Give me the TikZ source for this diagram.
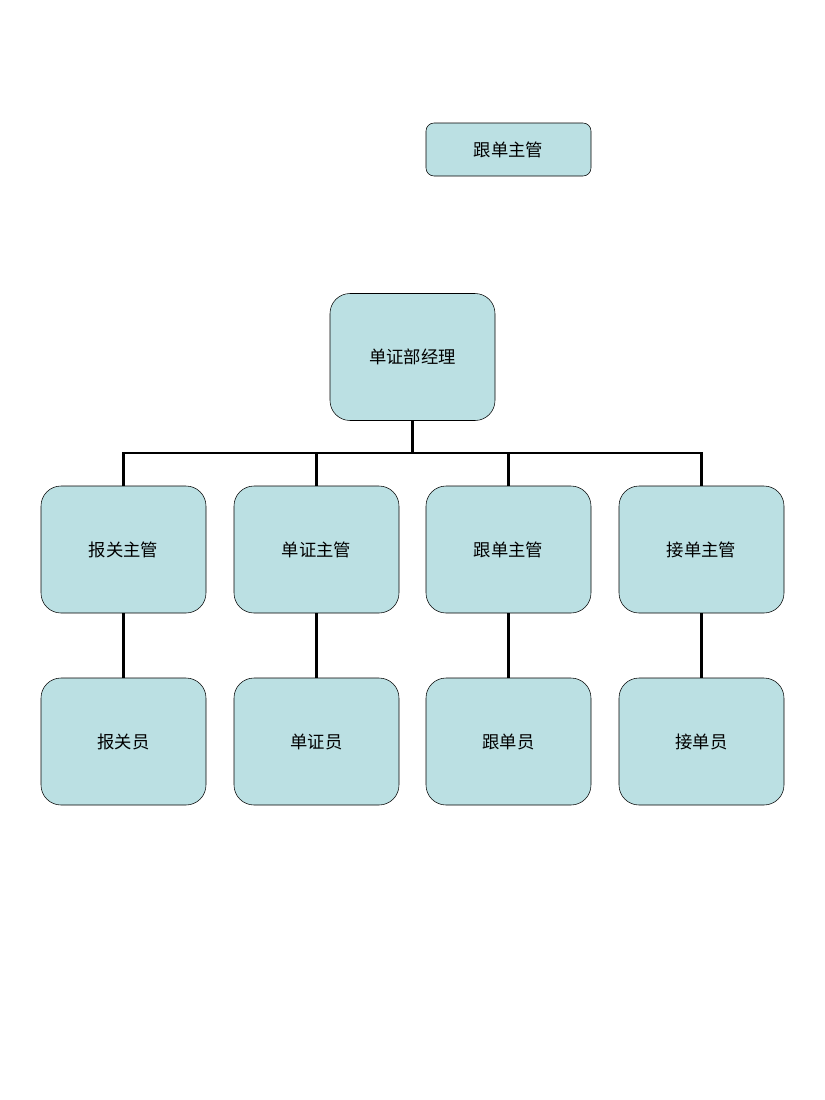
\documentclass[tikz,border=0pt]{standalone}
\usepackage{fontspec}
\setmainfont{Noto Sans CJK SC}
\usetikzlibrary{positioning}
\definecolor{boxfill}{HTML}{BBE0E3}

\begin{document}
\begin{tikzpicture}[x=0.75pt,y=-0.75pt,
  box/.style={rectangle,draw,fill=boxfill,rounded corners=15pt,
    minimum width=123.75pt,minimum height=95.25pt,font=\fontsize{13}{15}\selectfont},
  smallbox/.style={box,rounded corners=6pt,minimum height=39.75pt},
  link/.style={line width=2.2pt}]

\useasboundingbox (0,0) rectangle (825,1100);

%Nodes
\node (T) at (508.5,149.5) [smallbox] {跟单主管};
\node (M) at (412.5,357) [box] {单证部经理};

\node (A) at (123.5,549.5) [box] {报关主管};
\node (B) at (316.5,549.5) [box] {单证主管};
\node (C) at (508.5,549.5) [box] {跟单主管};
\node (D) at (701.5,549.5) [box] {接单主管};

\node (A1) at (123.5,741.5) [box] {报关员};
\node (B1) at (316.5,741.5) [box] {单证员};
\node (C1) at (508.5,741.5) [box] {跟单员};
\node (D1) at (701.5,741.5) [box] {接单员};

\coordinate (bus) at (412.5,453);

\begin{scope}[on background layer/.code={}]
\foreach \n in {A,B,C,D}
  \draw[link] (M.south) -- (bus) -| (\n.north);
\foreach \n in {A,B,C,D}
  \draw[link] (\n.south) -- (\n1.north);
\end{scope}

\end{tikzpicture}
\end{document}
